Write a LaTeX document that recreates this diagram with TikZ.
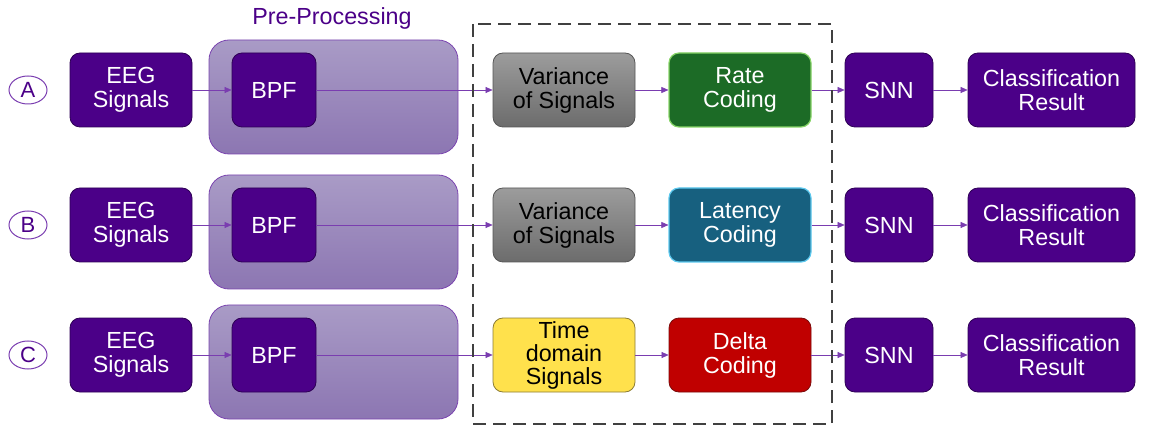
\documentclass[tikz,border=0pt]{standalone}
\usepackage{fontspec}
\setmainfont{Liberation Sans}
\usetikzlibrary{arrows.meta,shapes.geometric}
\definecolor{indigo}{HTML}{4B0088}
\definecolor{indigoline}{HTML}{2E0055}
\definecolor{linkpurple}{HTML}{7A3DB0}
\definecolor{pretop}{HTML}{A99BC6}
\definecolor{prebot}{HTML}{8C76B2}
\definecolor{preedge}{HTML}{7B45B0}
\definecolor{graytop}{HTML}{9C9C9C}
\definecolor{graybot}{HTML}{6C6C6C}
\definecolor{ratefill}{HTML}{1C6B26}
\definecolor{rateedge}{HTML}{86D466}
\definecolor{latfill}{HTML}{17607F}
\definecolor{latedge}{HTML}{5CC8EE}
\definecolor{deltafill}{HTML}{C00000}
\definecolor{deltaedge}{HTML}{7A0A0A}
\definecolor{yellowfill}{HTML}{FFE14C}
\definecolor{yellowedge}{HTML}{8C7C34}
\definecolor{dashgray}{HTML}{404040}
\begin{document}
\begin{tikzpicture}[x=1pt,y=-1pt,
  txt/.style={font=\fontsize{23.3}{24}\selectfont, align=center, inner sep=0pt},
  box/.style={txt, rectangle, rounded corners=10pt, minimum height=74pt, line width=0.8pt},
  darkbox/.style={box, fill=indigo, draw=indigoline, text=white},
  graybox/.style={box, top color=graytop, bottom color=graybot, draw=graybot!80!black, text=black},
  prebox/.style={rectangle, rounded corners=20pt, minimum width=249pt, minimum height=114pt,
     top color=pretop, bottom color=prebot, draw=preedge, line width=0.8pt},
  tag/.style={ellipse, draw=linkpurple, line width=1pt, minimum width=38pt, minimum height=28pt,
     inner sep=0pt, font=\fontsize{22}{22}\selectfont, text=indigo},
  link/.style={draw=linkpurple, line width=0.6pt, -{Triangle[length=7pt,width=6pt]}, color=linkpurple}
]
\useasboundingbox (0,0) rectangle (1150,427);

% heading over the pre-processing stage
\node[txt, text=indigo] (prehead) at (332,18) {Pre-Processing};

% three pipelines
\foreach \r/\y/\lab in {a/90/A, b/225/B, c/355/C} {
  \node[prebox] (pre\r) at (333.5,\y+7) {};
  \node[tag] (tag\r) at (28,\y) {\lab};
  \node[darkbox, minimum width=122pt] (eeg\r) at (131,\y) {EEG\\Signals};
  \node[darkbox, minimum width=84pt] (bpf\r) at (274,\y) {BPF};
  \node[darkbox, minimum width=88pt] (snn\r) at (889,\y) {SNN};
  \node[darkbox, minimum width=167pt] (cls\r) at (1051.5,\y) {Classification\\Result};
}

% feature extraction
\node[graybox, minimum width=142pt] (feata) at (564,90) {Variance\\of Signals};
\node[graybox, minimum width=142pt] (featb) at (564,225) {Variance\\of Signals};
\node[box, minimum width=142pt, fill=yellowfill, draw=yellowedge, text=black, font=\fontsize{23.3}{23}\selectfont] (featc) at (564,355)
  {Time\\domain\\Signals};

% spike encoding
\node[box, minimum width=142pt, fill=ratefill, draw=rateedge, line width=1.2pt, text=white] (enca) at (740,90) {Rate\\Coding};
\node[box, minimum width=142pt, fill=latfill, draw=latedge, line width=1.2pt, text=white] (encb) at (740,225) {Latency\\Coding};
\node[box, minimum width=142pt, fill=deltafill, draw=deltaedge, text=white] (encc) at (740,355) {Delta\\Coding};

% connectors
\foreach \r in {a,b,c} {
  \draw[link] (eeg\r) -- (bpf\r);
  \draw[link] (bpf\r) -- (feat\r);
  \draw[link] (feat\r) -- (enc\r);
  \draw[link] (enc\r) -- (snn\r);
  \draw[link] (snn\r) -- (cls\r);
}

% encoding stage frame
\coordinate (frameTL) at (473,24);
\coordinate (frameBR) at (832,424);
\draw[dashgray, line width=2.8pt, dash pattern=on 13pt off 7pt] (frameTL) rectangle (frameBR);
\end{tikzpicture}
\end{document}
